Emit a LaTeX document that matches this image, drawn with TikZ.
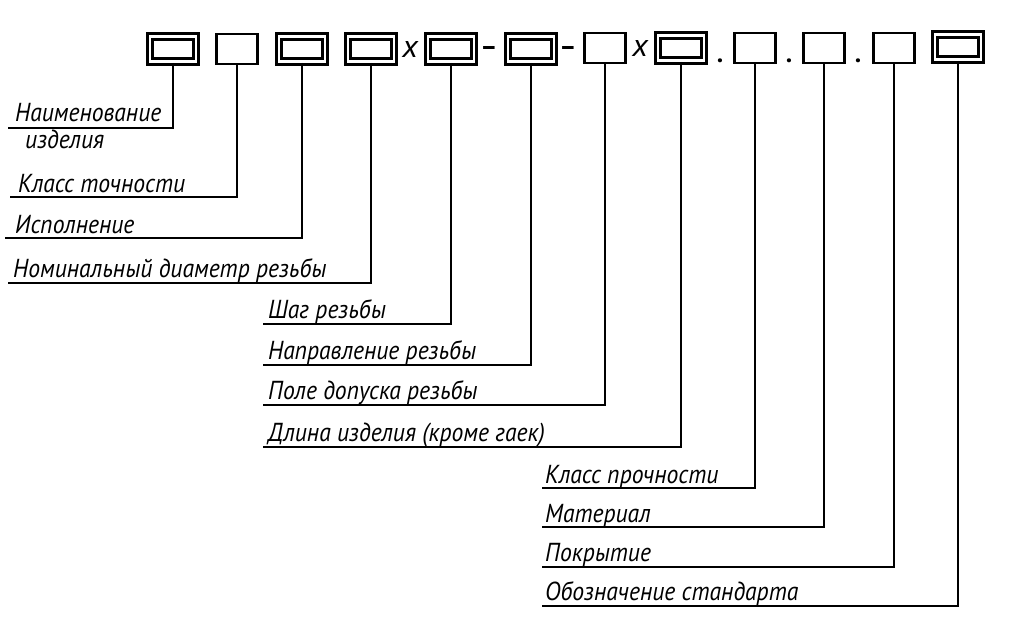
\documentclass[tikz,border=0pt]{standalone}
\usepackage{fontspec}
\setmainfont{PT Sans}
\newfontfamily\lblfont[FakeStretch=0.91]{PT Sans}
\begin{document}
\begin{tikzpicture}[x=1pt,y=-1pt,
  dbox/.style={draw,double,line width=2.8pt,double distance=2.8pt,minimum width=46pt,minimum height=25pt,inner sep=0pt},
  sbox/.style={draw,line width=2.8pt,minimum width=41pt,minimum height=30pt,inner sep=0pt},
  lbl/.style={anchor=base west,inner sep=0pt,font=\lblfont\fontsize{26}{28}\selectfont\itshape},
  sepx/.style={anchor=base,inner sep=0pt,font=\fontsize{32}{32}\selectfont\itshape},
  sepd/.style={anchor=base,inner sep=0pt,font=\fontsize{26}{26}\selectfont\bfseries},
  lead/.style={line width=1.4pt}]
\useasboundingbox (0,0) rectangle (1013,630);
% boxes
\node[dbox] (b1) at (173,49) {};
\node[sbox] (b2) at (237,49) {};
\node[dbox] (b3) at (302,49) {};
\node[dbox] (b4) at (371,49) {};
\node[dbox] (b5) at (451,49) {};
\node[dbox] (b6) at (531,49) {};
\node[sbox] (b7) at (605,48) {};
\node[dbox] (b8) at (681,48) {};
\node[sbox] (b9) at (755,48) {};
\node[sbox] (b10) at (824,48) {};
\node[sbox] (b11) at (894,48) {};
\node[dbox] (b12) at (958,47) {};
% separators
\node[sepx] (s1) at (410,57) {x};
\node[sepd] (s2) at (489,55) {–};
\node[sepd] (s3) at (568,55) {–};
\node[sepx] (s4) at (640,56) {x};
\node[sepd] (s5) at (720,62) {.};
\node[sepd] (s6) at (789,62) {.};
\node[sepd] (s7) at (858,62) {.};
% line ends
\coordinate (e1) at (8,128);
\coordinate (e2) at (10,197);
\coordinate (e3) at (5,238);
\coordinate (e4) at (8,283);
\coordinate (e5) at (263,324);
\coordinate (e6) at (263,365);
\coordinate (e7) at (263,405);
\coordinate (e8) at (263,447);
\coordinate (e9) at (542,488);
\coordinate (e10) at (542,527);
\coordinate (e11) at (542,567);
\coordinate (e12) at (542,606);
\foreach \i in {1,...,12} {\draw[lead] (b\i.south) |- (e\i);}
% labels
\node[lbl] (l1) at (15,121) {Наименование};
\node[lbl] (l1b) at (25,148) {изделия};
\node[lbl] (l2) at (18,192) {Класс точности};
\node[lbl] (l3) at (15,233) {Исполнение};
\node[lbl] (l4) at (13,277) {Номинальный диаметр резьбы};
\node[lbl] (l5) at (268,318) {Шаг резьбы};
\node[lbl] (l6) at (268,359) {Направление резьбы};
\node[lbl] (l7) at (268,399) {Поле допуска резьбы};
\node[lbl] (l8) at (268,441) {Длина изделия (кроме гаек)};
\node[lbl] (l9) at (545,483) {Класс прочности};
\node[lbl] (l10) at (545,522) {Материал};
\node[lbl] (l11) at (545,561) {Покрытие};
\node[lbl] (l12) at (545,600) {Обозначение стандарта};
\end{tikzpicture}
\end{document}
